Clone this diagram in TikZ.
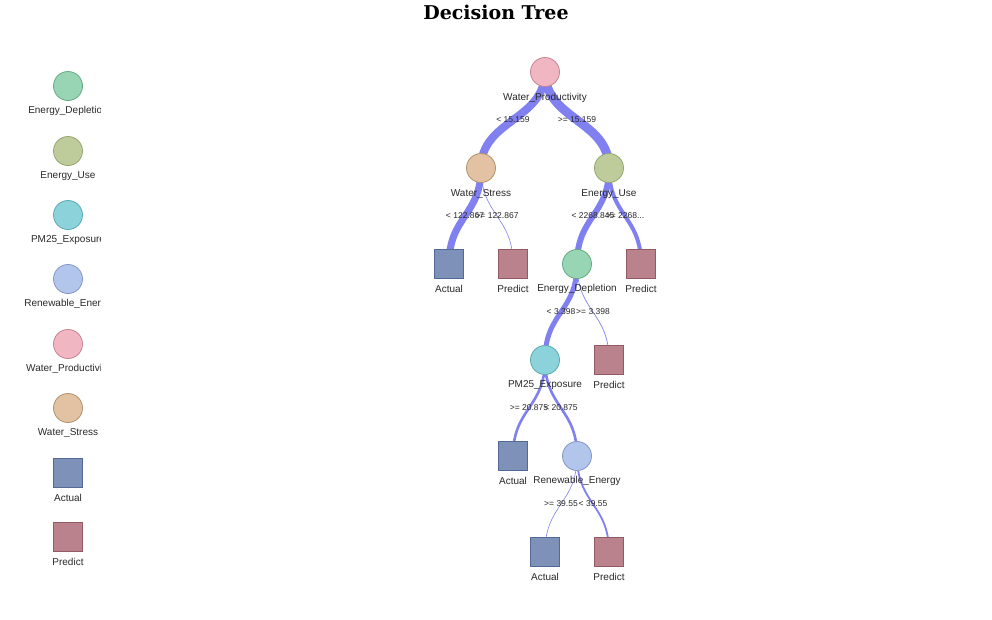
\documentclass[tikz,border=0pt]{standalone}
\usepackage{fontspec}
\setmainfont{Liberation Sans}
\newfontfamily\titlefont{DejaVu Serif}
\usetikzlibrary{backgrounds,calc}
\definecolor{edF}{RGB}{152,213,181}\definecolor{edD}{RGB}{100,170,130}
\definecolor{euF}{RGB}{190,204,155}\definecolor{euD}{RGB}{150,165,110}
\definecolor{pmF}{RGB}{140,210,218}\definecolor{pmD}{RGB}{90,170,180}
\definecolor{reF}{RGB}{178,198,236}\definecolor{reD}{RGB}{130,150,200}
\definecolor{wpF}{RGB}{240,182,194}\definecolor{wpD}{RGB}{200,130,145}
\definecolor{wsF}{RGB}{226,194,162}\definecolor{wsD}{RGB}{180,145,110}
\definecolor{acF}{RGB}{125,145,185}\definecolor{acD}{RGB}{85,105,150}
\definecolor{prF}{RGB}{185,130,140}\definecolor{prD}{RGB}{145,90,100}
\definecolor{linkc}{RGB}{128,128,240}
\definecolor{txt}{RGB}{40,40,40}
\tikzset{
  circ/.style={circle, minimum size=29pt, inner sep=0pt, line width=0.8pt},
  sq/.style={rectangle, minimum size=29pt, inner sep=0pt, line width=0.8pt},
  ed/.style={circ, fill=edF, draw=edD},
  eu/.style={circ, fill=euF, draw=euD},
  pm/.style={circ, fill=pmF, draw=pmD},
  re/.style={circ, fill=reF, draw=reD},
  wp/.style={circ, fill=wpF, draw=wpD},
  ws/.style={circ, fill=wsF, draw=wsD},
  ac/.style={sq, fill=acF, draw=acD},
  pr/.style={sq, fill=prF, draw=prD},
  lbl/.style={font=\fontsize{10}{12}\selectfont, text=txt, inner sep=0pt},
  elbl/.style={font=\fontsize{8.5}{10}\selectfont, text=txt, inner sep=0pt},
  treelink/.style={draw=linkc, out=-90, in=90, out distance=48pt, in distance=48pt}
}
\newcommand\tedge[3]{\draw[treelink, line width=#3] (#1.center) to (#2.center);}
\begin{document}
\begin{tikzpicture}[x=1pt,y=-1pt]
\useasboundingbox (0,0) rectangle (992,619);
\node[font=\titlefont\bfseries\fontsize{19}{22}\selectfont, inner sep=0pt] (title) at (496,12) {Decision Tree};

% legend
\node[ed] (L1) at (68,86) {};
\node[eu] (L2) at (68,151) {};
\node[pm] (L3) at (68,215) {};
\node[re] (L4) at (68,279) {};
\node[wp] (L5) at (68,344) {};
\node[ws] (L6) at (68,408) {};
\node[ac] (L7) at (68,473) {};
\node[pr] (L8) at (68,537) {};
\begin{scope}
\clip (0,0) rectangle (100,619);
\node[lbl] (L1t) at (68,111) {Energy\_Depletion};
\node[lbl] (L2t) at (68,176) {Energy\_Use};
\node[lbl] (L3t) at (68,240) {PM25\_Exposure};
\node[lbl] (L4t) at (68,304) {Renewable\_Energy};
\node[lbl] (L5t) at (68,369) {Water\_Productivity};
\node[lbl] (L6t) at (68,433) {Water\_Stress};
\node[lbl] (L7t) at (68,498) {Actual};
\node[lbl] (L8t) at (68,562) {Predict};
\end{scope}

% tree nodes
\node[wp] (n0) at (545,72) {};
\node[ws] (n1) at (481,168) {};
\node[eu] (n2) at (609,168) {};
\node[ac] (n3) at (449,264) {};
\node[pr] (n4) at (513,264) {};
\node[ed] (n5) at (577,264) {};
\node[pr] (n6) at (641,264) {};
\node[pm] (n7) at (545,360) {};
\node[pr] (n8) at (609,360) {};
\node[ac] (n9) at (513,456) {};
\node[re] (n10) at (577,456) {};
\node[ac] (n11) at (545,552) {};
\node[pr] (n12) at (609,552) {};

\begin{pgfonlayer}{background}
\tedge{n0}{n1}{8pt}
\tedge{n0}{n2}{9pt}
\tedge{n1}{n3}{7pt}
\tedge{n1}{n4}{0.6pt}
\tedge{n2}{n5}{6pt}
\tedge{n2}{n6}{4pt}
\tedge{n5}{n7}{5pt}
\tedge{n5}{n8}{0.7pt}
\tedge{n7}{n9}{2.6pt}
\tedge{n7}{n10}{2.6pt}
\tedge{n10}{n11}{0.6pt}
\tedge{n10}{n12}{1.8pt}
\end{pgfonlayer}

% node labels
\node[lbl] (t0) at (545,98) {Water\_Productivity};
\node[lbl] (t1) at (481,194) {Water\_Stress};
\node[lbl] (t2) at (609,194) {Energy\_Use};
\node[lbl] (t3) at (449,289) {Actual};
\node[lbl] (t4) at (513,289) {Predict};
\node[lbl] (t5) at (577,289) {Energy\_Depletion};
\node[lbl] (t6) at (641,289) {Predict};
\node[lbl] (t7) at (545,385) {PM25\_Exposure};
\node[lbl] (t8) at (609,385) {Predict};
\node[lbl] (t9) at (513,481) {Actual};
\node[lbl] (t10) at (577,481) {Renewable\_Energy};
\node[lbl] (t11) at (545,577) {Actual};
\node[lbl] (t12) at (609,577) {Predict};

% edge labels
\node[elbl] (e1) at ($(n0)!.5!(n1)$) {< 15.159};
\node[elbl] (e2) at ($(n0)!.5!(n2)$) {>= 15.159};
\node[elbl] (e3) at ($(n1)!.5!(n3)$) {< 122.867};
\node[elbl] (e4) at ($(n1)!.5!(n4)$) {>= 122.867};
\node[elbl] (e5) at ($(n2)!.5!(n5)$) {< 2268.845};
\node[elbl] (e6) at ($(n2)!.5!(n6)$) {>= 2268...};
\node[elbl] (e7) at ($(n5)!.5!(n7)$) {< 3.398};
\node[elbl] (e8) at ($(n5)!.5!(n8)$) {>= 3.398};
\node[elbl] (e9) at ($(n7)!.5!(n9)$) {>= 20.875};
\node[elbl] (e10) at ($(n7)!.5!(n10)$) {< 20.875};
\node[elbl] (e11) at ($(n10)!.5!(n11)$) {>= 39.55};
\node[elbl] (e12) at ($(n10)!.5!(n12)$) {< 39.55};
\end{tikzpicture}
\end{document}
